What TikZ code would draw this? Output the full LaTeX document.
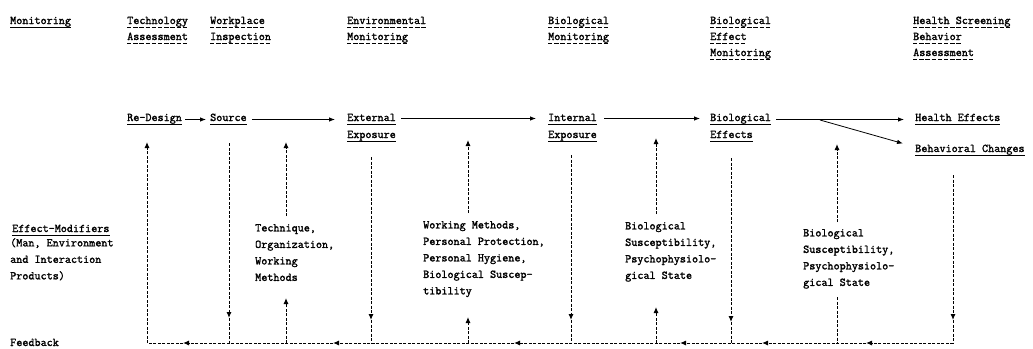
\documentclass[tikz,border=0pt]{standalone}
\usepackage{fontspec}
\newfontfamily\twfont{Latin Modern Mono}[FakeBold=1.6]
\usetikzlibrary{arrows.meta,calc}
\newcommand\myul[2][ul]{\draw[#1] ($(#2.base west)+(0,3)$) -- ($(#2.base east)+(0,3)$);}
\begin{document}
\begin{tikzpicture}[x=1pt,y=-1pt,
  tfont/.style={font=\twfont\fontsize{11.8}{16.5}\selectfont},
  txt/.style={tfont,inner sep=0pt,anchor=base west,text height=7.5pt,text depth=2.5pt},
  blk/.style={tfont,inner sep=0pt,anchor=north west,align=left},
  ul/.style={line width=1pt},
  dul/.style={line width=1pt,dash pattern=on 4.4pt off 1.8pt},
  arr/.style={line width=0.8pt,-{Latex[length=6pt,width=4.5pt]}},
  fb/.style={line width=1pt,dash pattern=on 3pt off 1.5pt},
  fba/.style={fb,-{Latex[length=6pt,width=5pt]}}]
\useasboundingbox (0,0) rectangle (1033,348);
% headings
\node[txt] (hmon) at (10,24) {Monitoring}; \myul{hmon}
\node[txt] (h1a) at (127,24) {Technology}; \myul[dul]{h1a}
\node[txt] (h1b) at (127,40) {Assessment}; \myul[dul]{h1b}
\node[txt] (h2a) at (210,24) {Workplace}; \myul[dul]{h2a}
\node[txt] (h2b) at (210,40) {Inspection}; \myul[dul]{h2b}
\node[txt] (h3a) at (347,24) {Environmental}; \myul[dul]{h3a}
\node[txt] (h3b) at (347,40) {Monitoring}; \myul[dul]{h3b}
\node[txt] (h4a) at (548,24) {Biological}; \myul[dul]{h4a}
\node[txt] (h4b) at (548,40) {Monitoring}; \myul[dul]{h4b}
\node[txt] (h5a) at (710,24) {Biological}; \myul[dul]{h5a}
\node[txt] (h5b) at (710,40) {Effect}; \myul[dul]{h5b}
\node[txt] (h5c) at (710,56) {Monitoring}; \myul[dul]{h5c}
\node[txt] (h6a) at (913,24) {Health Screening}; \myul[dul]{h6a}
\node[txt] (h6b) at (913,40) {Behavior}; \myul[dul]{h6b}
\node[txt] (h6c) at (913,56) {Assessment}; \myul[dul]{h6c}
% chain
\node[txt] (red) at (127,121) {Re-Design}; \myul{red}
\node[txt] (src) at (210,121) {Source}; \myul{src}
\node[txt] (ext) at (347,121) {External}; \myul{ext}
\node[txt] (exp1) at (347,138) {Exposure}; \myul{exp1}
\node[txt] (int) at (548,121) {Internal}; \myul{int}
\node[txt] (exp2) at (548,138) {Exposure}; \myul{exp2}
\node[txt] (bio) at (710,121) {Biological}; \myul{bio}
\node[txt] (eff) at (710,138) {Effects}; \myul{eff}
\node[txt] (hea) at (915,121) {Health Effects}; \myul{hea}
\node[txt] (beh) at (915,152) {Behavioral Changes}; \myul{beh}
\draw[arr] ($(red.east)+(3,1)$) -- ($(src.west)+(-4,1)$);
\draw[arr] ($(src.east)+(5,1)$) -- ($(ext.west)+(-12,1)$);
\draw[arr] ($(ext.east)+(5,0)$) -- ($(int.west)+(-12,0)$);
\draw[arr] ($(int.east)+(7,0)$) -- ($(bio.west)+(-10,0)$);
\draw[arr] ($(bio.east)+(5,1)$) -- ($(hea.west)+(-11,1)$);
\coordinate (split) at (820,120);
\draw[arr] (split) -- ($(beh.west)+(-12,-6)$);
% left column
\node[txt] (em) at (12,232) {Effect-Modifiers}; \myul{em}
\node[blk] (emt) at (10,238) {(Man, Environment\\and Interaction\\Products)};
\node[txt] (fbk) at (10,346) {Feedback};
% modifier texts
\node[blk] (t1) at (255,224) {Technique,\\Organization,\\Working\\Methods};
\node[blk] (t2) at (423,221) {Working Methods,\\Personal Protection,\\Personal Hygiene,\\Biological Suscep-\\tibility};
\node[blk] (t3) at (625,222) {Biological\\Susceptibility,\\Psychophysiolo-\\gical State};
\node[blk] (t4) at (803,229) {Biological\\Susceptibility,\\Psychophysiolo-\\gical State};
% feedback line
\coordinate (f0) at (953,343); \coordinate (f1) at (866,343);
\coordinate (f2) at (762,343); \coordinate (f3) at (680,343);
\coordinate (f4) at (514,343); \coordinate (f5) at (333,343);
\coordinate (f6) at (183,343); \coordinate (f7) at (147,343);
\coordinate (v1t) at (147,142);
\draw[fba] (f0) -- (f1);
\draw[fba] (f1) -- (f2);
\draw[fba] (f2) -- (f3);
\draw[fba] (f3) -- (f4);
\draw[fba] (f4) -- (f5);
\draw[fba] (f5) -- (f6);
\draw[fba] (f6) -- (f7) -- (v1t);
% verticals
\coordinate (v2a) at (229,143); \coordinate (v2b) at (229,318); \coordinate (v2c) at (229,343);
\draw[fba] (v2a) -- (v2b); \draw[fb] (v2b) -- (v2c);
\coordinate (v3a) at (286,216); \coordinate (v3b) at (286,142);
\coordinate (v3c) at (286,343); \coordinate (v3d) at (286,298);
\draw[fba] (v3a) -- (v3b); \draw[fba] (v3c) -- (v3d);
\coordinate (v4a) at (371,157); \coordinate (v4b) at (371,320); \coordinate (v4c) at (371,343);
\draw[fba] (v4a) -- (v4b); \draw[fb] (v4b) -- (v4c);
\coordinate (v5a) at (468,213); \coordinate (v5b) at (468,140);
\coordinate (v5c) at (468,343); \coordinate (v5d) at (468,317);
\draw[fba] (v5a) -- (v5b); \draw[fba] (v5c) -- (v5d);
\coordinate (v6a) at (571,155); \coordinate (v6b) at (571,320); \coordinate (v6c) at (571,343);
\draw[fba] (v6a) -- (v6b); \draw[fb] (v6b) -- (v6c);
\coordinate (v7a) at (656,214); \coordinate (v7b) at (656,138);
\coordinate (v7c) at (656,343); \coordinate (v7d) at (656,307);
\draw[fba] (v7a) -- (v7b); \draw[fba] (v7c) -- (v7d);
\coordinate (v8a) at (731,158); \coordinate (v8b) at (731,322); \coordinate (v8c) at (731,343);
\draw[fba] (v8a) -- (v8b); \draw[fb] (v8b) -- (v8c);
\coordinate (v9a) at (837,222); \coordinate (v9b) at (837,144);
\coordinate (v9c) at (837,297); \coordinate (v9d) at (837,343);
\draw[fba] (v9a) -- (v9b); \draw[fb] (v9c) -- (v9d);
\coordinate (v10a) at (953,175); \coordinate (v10b) at (953,320);
\draw[fba] (v10a) -- (v10b); \draw[fb] (v10b) -- (f0);
\end{tikzpicture}
\end{document}
